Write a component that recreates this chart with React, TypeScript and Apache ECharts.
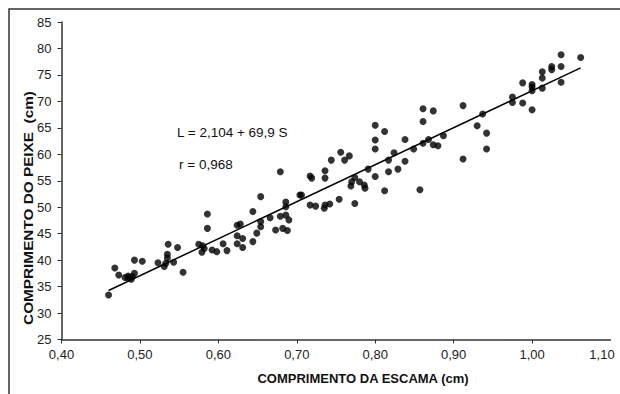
import React, { useEffect, useRef } from "react";
import * as echarts from "echarts";

// Scale length (cm) and fish length (cm)
const scaleLengthCm: number[] = [
  0.46, 0.468, 0.473, 0.481, 0.485, 0.489, 0.49, 0.493, 0.485, 0.493,
  0.503, 0.523, 0.531, 0.533, 0.535, 0.535, 0.536, 0.543, 0.548, 0.555,
  0.575, 0.58, 0.582, 0.579, 0.586, 0.586, 0.592, 0.598, 0.606, 0.611,
  0.679, 0.717, 0.719, 0.736, 0.736, 0.654, 0.644, 0.686, 0.686, 0.704,
  0.706, 0.717, 0.724, 0.736, 0.742, 0.654, 0.654, 0.666, 0.679, 0.686,
  0.69, 0.624, 0.628, 0.649, 0.673, 0.682, 0.688, 0.624, 0.631, 0.624,
  0.631, 0.644, 0.8, 0.812, 0.861, 0.861, 0.868, 0.861, 0.8, 0.8,
  0.838, 0.849, 0.824, 0.817, 0.838, 0.756, 0.767, 0.761, 0.744, 0.791,
  0.817, 0.829, 0.8, 0.77, 0.774, 0.78, 0.769, 0.786, 0.787, 0.812,
  0.857, 0.735, 0.754, 0.774, 0.975, 0.975, 0.874, 0.912, 0.937, 0.93,
  0.942, 0.887, 0.874, 0.88, 0.942, 0.912, 1.037, 1.062, 1.025, 1.025,
  1.037, 1.013, 1.013, 0.988, 1.0, 1.0, 1.0, 1.037, 1.013, 0.988, 1.0,
];
const fishLengthCm: number[] = [
  33.4, 38.5, 37.2, 36.7, 36.6, 36.4, 36.9, 37.5, 37.0, 40.0,
  39.8, 39.5, 38.8, 39.4, 40.4, 41.1, 43.0, 39.6, 42.4, 37.7,
  43.0, 42.7, 42.2, 41.5, 46.0, 48.7, 41.9, 41.6, 43.1, 41.8,
  56.7, 55.9, 55.5, 56.9, 55.5, 52.0, 49.2, 51.0, 50.1, 52.3,
  52.3, 50.4, 50.2, 50.4, 50.6, 47.3, 46.3, 48.0, 48.3, 48.5,
  47.6, 46.6, 46.8, 45.1, 45.7, 46.0, 45.6, 44.6, 44.1, 43.1,
  42.4, 43.5, 65.5, 64.3, 68.6, 66.2, 62.8, 62.1, 62.7, 61.0,
  62.8, 61.0, 60.3, 58.9, 58.7, 60.4, 59.7, 58.9, 58.9, 57.2,
  56.7, 57.2, 55.8, 54.8, 55.6, 54.8, 54.0, 54.2, 53.6, 53.1,
  53.3, 49.8, 51.5, 50.7, 70.8, 69.8, 68.2, 69.2, 67.6, 65.4,
  64.0, 63.5, 61.8, 61.6, 61.0, 59.1, 78.8, 78.3, 76.6, 76.0,
  76.6, 75.6, 74.4, 73.5, 73.2, 72.7, 72.0, 73.6, 72.5, 69.7, 68.4,
];

// Trend line stated on the chart: L = 2,104 + 69,9 S
const trendIntercept = 2.104;
const trendSlope = 69.9;
const trendRange: number[] = [0.46, 1.062];
const equationLabel = "L = 2,104 + 69,9 S";
const correlationLabel = "r = 0,968";

const xAxisTitle = "COMPRIMENTO DA ESCAMA (cm)";
const yAxisTitle = "COMPRIMENTO DO PEIXE  (cm)";
const xMaxLabel = "1,10";

const FONT = "'Liberation Sans', Arial, sans-serif";

export default function App() {
  const ref = useRef<HTMLDivElement>(null);

  useEffect(() => {
    if (!ref.current) return;
    const chart = echarts.init(ref.current, undefined, { renderer: "svg" });
    const points = scaleLengthCm.map((s, i) => [s, fishLengthCm[i]]);
    const trend = trendRange.map((s) => [s, trendIntercept + trendSlope * s]);

    chart.setOption({
      animation: false,
      backgroundColor: "#ffffff",
      textStyle: { fontFamily: FONT },
      grid: { left: 61.5, right: 9.5, top: 22, bottom: 54.5 },
      xAxis: {
        type: "value",
        min: 0.4,
        max: 1.1,
        interval: 0.1,
        splitLine: { show: false },
        axisLine: { lineStyle: { color: "#333", width: 1.5 } },
        axisTick: { inside: false, length: 4, lineStyle: { color: "#333", width: 1 } },
        axisLabel: {
          margin: 8,
          fontSize: 13,
          color: "#222",
          fontFamily: FONT,
          showMaxLabel: false,
          formatter: (v: number) => v.toFixed(2).replace(".", ","),
        },
      },
      yAxis: {
        type: "value",
        min: 25,
        max: 85,
        interval: 5,
        splitLine: { show: false },
        axisLine: { show: true, lineStyle: { color: "#333", width: 1.5 } },
        axisTick: { show: true, inside: false, length: 4, lineStyle: { color: "#333", width: 1 } },
        axisLabel: { margin: 10, fontSize: 13, color: "#222", fontFamily: FONT },
      },
      graphic: [
        {
          type: "rect",
          shape: { x: 9, y: 9, width: 700, height: 500 },
          style: { fill: "none", stroke: "#333", lineWidth: 1.5 },
          silent: true,
        },
        {
          type: "text",
          x: 602,
          y: 347.5,
          style: {
            text: xMaxLabel,
            fontSize: 13,
            fontFamily: FONT,
            fill: "#222",
            textAlign: "center",
            textVerticalAlign: "top",
          },
        },
        {
          type: "text",
          x: 28,
          y: 208,
          rotation: Math.PI / 2,
          scaleX: 1.18,
          style: {
            text: yAxisTitle,
            fontSize: 13,
            fontWeight: "bold",
            fontFamily: FONT,
            fill: "#111",
            textAlign: "center",
            textVerticalAlign: "middle",
          },
        },
        {
          type: "text",
          x: 363,
          y: 378,
          style: {
            text: xAxisTitle,
            fontSize: 13,
            fontWeight: "bold",
            fontFamily: FONT,
            fill: "#111",
            textAlign: "center",
            textVerticalAlign: "middle",
          },
        },
        {
          type: "text",
          x: 177,
          y: 132,
          style: {
            text: equationLabel,
            fontSize: 13.5,
            fontFamily: FONT,
            fill: "#111",
            textAlign: "left",
            textVerticalAlign: "middle",
          },
        },
        {
          type: "text",
          x: 179,
          y: 164,
          style: {
            text: correlationLabel,
            fontSize: 13.5,
            fontFamily: FONT,
            fill: "#111",
            textAlign: "left",
            textVerticalAlign: "middle",
          },
        },
      ],
      series: [
        {
          type: "scatter",
          data: points,
          symbol: "circle",
          symbolSize: 7,
          itemStyle: { color: "#000" },
          z: 3,
        },
        {
          type: "line",
          data: trend,
          showSymbol: false,
          lineStyle: { color: "#000", width: 1.5 },
          z: 2,
        },
      ],
    });

    return () => chart.dispose();
  }, []);

  return (
    <div
      ref={ref}
      style={{ position: "absolute", left: 0, top: 0, width: 620, height: 394, background: "#fff" }}
    />
  );
}
